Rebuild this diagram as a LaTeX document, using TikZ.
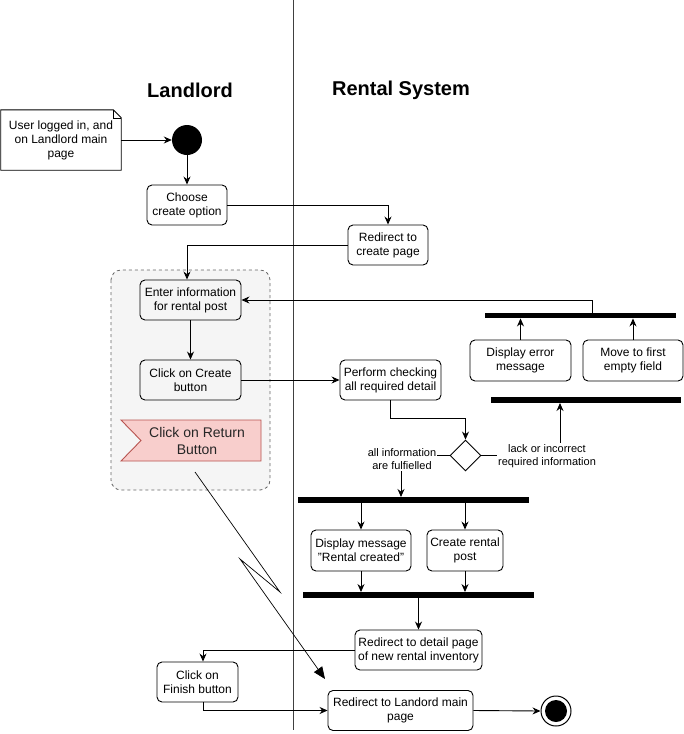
\documentclass[tikz,border=0pt]{standalone}
\usepackage{fontspec}
\setmainfont{Liberation Sans}
\usetikzlibrary{arrows.meta,shapes.geometric}
\definecolor{flagfill}{HTML}{F8CECC}
\definecolor{flagdraw}{HTML}{B85450}
\definecolor{grpfill}{HTML}{F5F5F5}
\definecolor{grpdraw}{HTML}{666666}
\begin{document}
\begin{tikzpicture}[x=1pt,y=-1pt,
  act/.style={draw,rounded corners=5pt,line width=0.9pt,align=center,inner sep=0pt,font=\fontsize{12}{14}\selectfont},
  barr/.style={fill=black,inner sep=0pt,minimum height=5.5pt},
  arr/.style={-{Stealth[length=8pt,width=7pt]},line width=0.9pt},
  lbl/.style={fill=white,align=center,inner sep=1pt,font=\fontsize{11}{13}\selectfont},
  ttl/.style={font=\fontsize{20}{24}\selectfont\bfseries},
  thinline/.style={line width=0.9pt}]
\useasboundingbox (0,0) rectangle (684,734);
% swimlane divider
\draw[black!75,line width=1pt] (293,0) -- (293,730);
\node[ttl] (tl) at (190,90) {Landlord};
\node[ttl] (tr) at (401,90) {Rental System};
% group
\draw[dash pattern=on 3pt off 3pt,draw=grpdraw,fill=grpfill,line width=0.8pt,rounded corners=10pt] (111,270) rectangle (270,490);
% note
\node[font=\fontsize{12}{14}\selectfont,align=center,minimum width=120pt,minimum height=60pt,inner sep=0pt] (note) at (61,140) {User logged in, and\\on Landlord main\\page};
\draw[thinline] (note.north west) -- ([xshift=-8pt]note.north east) -- ([yshift=-8pt]note.north east) -- (note.south east) -- (note.south west) -- cycle;
\draw[line width=0.6pt] ([xshift=-8pt]note.north east) -- ++(0,8) -- ++(8,0);
% start
\node[circle,fill=black,minimum size=30pt,inner sep=0pt] (start) at (187,140) {};
% activities
\node[act,minimum width=80pt,minimum height=40pt] (choose) at (187,205) {Choose\\create option};
\node[act,minimum width=80pt,minimum height=40pt] (redir1) at (388,245) {Redirect to\\create page};
\node[act,minimum width=101pt,minimum height=40pt] (enter) at (190.5,300) {Enter information\\for rental post};
\node[act,minimum width=101pt,minimum height=40pt] (create) at (190.5,380) {Click on Create\\button};
\node[act,minimum width=101pt,minimum height=40pt] (perform) at (390.5,380) {Perform checking\\all required detail};
\node[act,minimum width=101pt,minimum height=41pt] (err) at (520.5,360.5) {Display error\\message};
\node[act,minimum width=100pt,minimum height=41pt] (move) at (633,360.5) {Move to first\\empty field};
\node[act,minimum width=100pt,minimum height=41pt] (disp) at (361,550.5) {Display message\\"Rental created"};
\node[act,minimum width=76pt,minimum height=41pt] (post) at (465,550.5) {Create rental\\post};
\node[act,minimum width=127pt,minimum height=40pt] (detail) at (418.5,650) {Redirect to detail page\\of new rental inventory};
\node[act,minimum width=81pt,minimum height=40pt] (finish) at (197.5,682) {Click on\\Finish button};
\node[act,minimum width=145pt,minimum height=40pt] (home) at (400.5,710.5) {Redirect to Landord main\\page};
% flag
\draw[fill=flagfill,draw=flagdraw,line width=0.9pt] (121,420) -- (261,420) -- (261,461) -- (121,461) -- (141,440.5) -- cycle;
\node[font=\fontsize{14}{17}\selectfont,align=center,text=black!85,inner sep=0pt] (ret) at (197,441) {Click on Return\\Button};
% bars
\node[barr,minimum width=191pt] (b1) at (580.5,315.5) {};
\node[barr,minimum width=190pt] (b2) at (586,400) {};
\node[barr,minimum width=231pt] (fork) at (413.5,500) {};
\node[barr,minimum width=231pt] (join) at (418.5,595) {};
% decision
\node[diamond,draw,line width=0.9pt,minimum width=31pt,minimum height=31pt,inner sep=0pt] (dia) at (465.5,455.5) {};
% end
\node[circle,draw,line width=1pt,minimum size=30pt,inner sep=0pt] (end) at (556,711) {};
\node[circle,fill=black,minimum size=22pt,inner sep=0pt] (endin) at (556,711) {};
% connectors
\draw[arr] (note.east) -- (start.west);
\draw[arr] (start.south) -- (choose.north);
\draw[arr] (choose.east) -| (redir1.north);
\draw[arr] (redir1.west) -| ([xshift=-3.5pt]enter.north);
\draw[arr] (enter.south) -- (create.north);
\draw[arr] (create.east) -- (perform.west);
\draw[arr] (perform.south) -- ++(0,18) -| (dia.north);
\coordinate (f1) at (401,497);
\draw[arr] (dia.west) -| (f1);
\node[lbl] (l1) at (402,459.5) {all information\\are fulfielled};
\coordinate (f2) at (560,403);
\draw[arr] (dia.east) -| (f2);
\node[lbl] (l2) at (547,456) {lack or incorrect\\required information};
\draw[arr] (err.north) -- (err.north |- b1.south);
\draw[arr] (move.north) -- (move.north |- b1.south);
\draw[arr] ([xshift=11.5pt]b1.north) |- (enter.east);
\draw[arr] (disp.north |- fork.south) -- (disp.north);
\draw[arr] (post.north |- fork.south) -- (post.north);
\draw[arr] (disp.south) -- (disp.south |- join.north);
\draw[arr] (post.south) -- (post.south |- join.north);
\draw[arr] (join.south) -- (detail.north);
\draw[arr] (detail.west) -| ([xshift=5.5pt]finish.north);
\draw[arr] ([xshift=5.5pt]finish.south) |- (home.west);
\draw[arr] (home.east) -- (end.west);
% interrupting edge
\coordinate (z0) at (195,472);
\coordinate (z1) at (280,592);
\coordinate (z2) at (240,559);
\coordinate (z3) at (325,679);
\draw[-{Triangle[length=12pt,width=10pt]},line width=0.7pt] (z0) -- (z1) -- (z2) -- (z3);
\end{tikzpicture}
\end{document}
